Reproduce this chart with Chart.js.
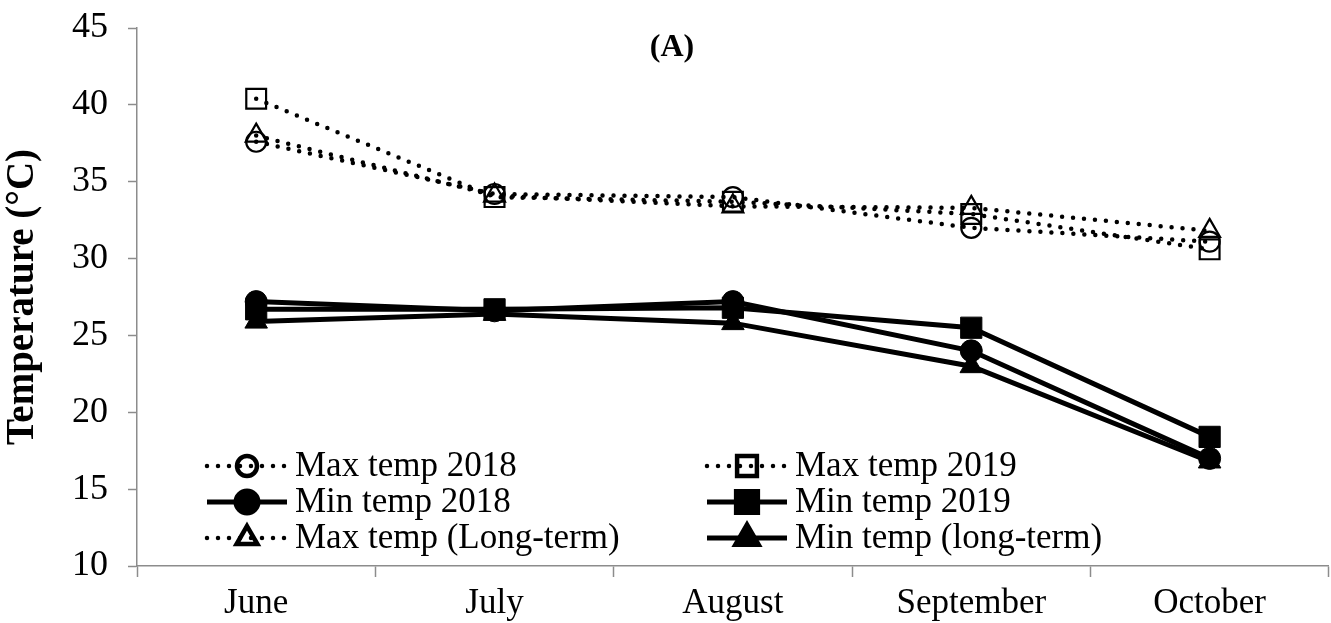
<!DOCTYPE html>
<html>
<head>
<meta charset="utf-8">
<script src="https://cdn.jsdelivr.net/npm/chart.js@4"></script>
<style>
  html, body { margin: 0; padding: 0; background: #fff; overflow: hidden; }
  #wrap { width: 1345px; height: 623px; }
</style>
</head>
<body>
<div id="wrap"><canvas id="tempChart"></canvas></div>
<script>
// Chart data
const months = ['June', 'July', 'August', 'September', 'October'];
const maxTemp2018 = [37.6, 34.2, 34.0, 32.0, 31.1];
const maxTemp2019 = [40.4, 34.0, 33.7, 32.9, 30.6];
const minTemp2018 = [27.2, 26.6, 27.2, 24.0, 17.0];
const minTemp2019 = [26.7, 26.7, 26.8, 25.5, 18.4];
const maxTempLong = [38.0, 34.1, 33.4, 33.3, 31.8];
const minTempLong = [25.9, 26.4, 25.8, 23.0, 16.8];
const yTicks = [10, 15, 20, 25, 30, 35, 40, 45];

const FONT = '"Liberation Serif", "Times New Roman", serif';
const AXIS_GREY = '#8c8c8c';
const RADIUS = { circle: 10, rect: 14, triangle: 12 };

function maxSeries(label, data, style) {
    return {
        label: label,
        data: data,
        borderColor: '#000',
        borderWidth: 4.5,
        borderDash: [0, 11],
        borderCapStyle: 'round',
        pointStyle: style,
        pointRadius: RADIUS[style],
        pointBorderWidth: 2.2,
        pointBackgroundColor: 'rgba(255,255,255,0)',
        pointBorderColor: '#000',
        fill: false,
        tension: 0
    };
}

function minSeries(label, data, style) {
    return {
        label: label,
        data: data,
        borderColor: '#000',
        borderWidth: 5,
        pointStyle: style,
        pointRadius: RADIUS[style] + 1,
        pointBorderWidth: 1,
        pointBackgroundColor: '#000',
        pointBorderColor: '#000',
        fill: false,
        tension: 0
    };
}

// Legend drawn inside the plot area, two columns
const insideLegend = {
    id: 'insideLegend',
    afterDraw(chart) {
        const ctx = chart.ctx;
        const cols = [{ x0: 207, x1: 287, tx: 295 }, { x0: 707, x1: 787, tx: 795 }];
        const rows = [466, 502, 538];
        ctx.save();
        chart.data.datasets.forEach((ds, i) => {
            const c = cols[i % 2];
            const y = rows[Math.floor(i / 2)];
            ctx.strokeStyle = '#000';
            ctx.lineWidth = ds.borderWidth;
            ctx.lineCap = ds.borderCapStyle || 'butt';
            ctx.setLineDash(ds.borderDash || []);
            ctx.beginPath();
            ctx.moveTo(c.x0, y);
            ctx.lineTo(c.x1, y);
            ctx.stroke();
            ctx.setLineDash([]);
            const mx = (c.x0 + c.x1) / 2;
            ctx.fillStyle = ds.pointBackgroundColor;
            Chart.helpers.drawPoint(ctx, {
                pointStyle: ds.pointStyle,
                radius: ds.pointRadius,
                rotation: 0,
                borderWidth: ds.pointBorderWidth
            }, mx, y);
            ctx.fillStyle = '#000';
            ctx.font = '35px ' + FONT;
            ctx.textAlign = 'left';
            ctx.textBaseline = 'middle';
            ctx.fillText(ds.label, c.tx, y + 1);
        });
        // panel tag
        ctx.font = 'bold 32px ' + FONT;
        ctx.textAlign = 'center';
        ctx.fillText('(A)', 672, 48);
        ctx.restore();
    }
};

new Chart(document.getElementById('tempChart'), {
    type: 'line',
    data: {
        labels: months,
        datasets: [
            maxSeries('Max temp 2018', maxTemp2018, 'circle'),
            maxSeries('Max temp 2019', maxTemp2019, 'rect'),
            minSeries('Min temp 2018', minTemp2018, 'circle'),
            minSeries('Min temp 2019', minTemp2019, 'rect'),
            maxSeries('Max temp (Long-term)', maxTempLong, 'triangle'),
            minSeries('Min temp (long-term)', minTempLong, 'triangle')
        ]
    },
    options: {
        responsive: true,
        maintainAspectRatio: false,
        animation: false,
        layout: { padding: { top: 28, right: 5, left: 0, bottom: 0 } },
        plugins: {
            legend: { display: false },
            tooltip: { enabled: false }
        },
        scales: {
            x: {
                offset: true,
                grid: {
                    offset: true,
                    drawOnChartArea: false,
                    drawTicks: true,
                    tickLength: 11,
                    tickColor: AXIS_GREY,
                    tickWidth: 1.5
                },
                border: { color: AXIS_GREY, width: 1.5 },
                ticks: {
                    color: '#000',
                    padding: 6,
                    maxRotation: 0,
                    font: { family: FONT, size: 35 }
                },
                afterFit(scale) {
                    scale.height = 57;
                    scale.paddingLeft = 0;
                    scale.paddingRight = 0;
                }
            },
            y: {
                min: 10,
                max: 45,
                afterBuildTicks(scale) {
                    scale.ticks = yTicks.map(v => ({ value: v }));
                },
                grid: {
                    drawOnChartArea: false,
                    drawTicks: true,
                    tickLength: 9,
                    tickColor: AXIS_GREY,
                    tickWidth: 1.5
                },
                border: { color: AXIS_GREY, width: 1.5 },
                ticks: {
                    color: '#000',
                    padding: 20,
                    font: { family: FONT, size: 36 }
                },
                title: {
                    display: true,
                    text: 'Temperature (°C)',
                    color: '#000',
                    padding: { top: 0, bottom: 2 },
                    font: { family: FONT, size: 39, weight: 'bold' }
                },
                afterFit(scale) {
                    scale.width = 137;
                    scale.paddingTop = 0;
                    scale.paddingBottom = 0;
                }
            }
        }
    },
    plugins: [insideLegend]
});
</script>
</body>
</html>
